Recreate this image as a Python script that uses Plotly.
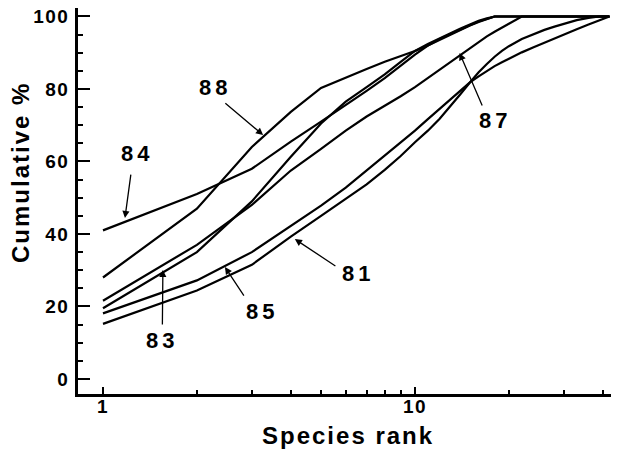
import math
import plotly.graph_objects as go

# Species rank (x, log scale)
ranks = [1, 2, 3, 4, 5, 6, 7, 8, 9, 10, 11, 12, 13, 14, 15, 16, 17, 18, 19, 20,
         22, 24, 26, 28, 30, 33, 36, 39, 42]

# Cumulative % per year
c88 = [28, 47, 64, 73.7, 80.3, 83, 85.5, 87.5, 89, 90.5, 92, 93.6, 95, 96.4, 97.5, 98.5, 99.3, 100, 100, 100,
       100, 100, 100, 100, 100, 100, 100, 100, 100]
c84 = [41, 51, 58, 65.5, 71, 75.5, 79.5, 83, 86.5, 89.5, 92, 93.8, 95.2, 96.5, 97.6, 98.6, 99.4, 100, 100, 100,
       100, 100, 100, 100, 100, 100, 100, 100, 100]
c83 = [19.5, 35, 49, 61.3, 70.5, 76.5, 80.5, 84, 87.5, 90.5, 92.4, 94, 95.4, 96.7, 97.8, 98.8, 99.5, 100, 100, 100,
       100, 100, 100, 100, 100, 100, 100, 100, 100]
c87 = [21.6, 37, 48, 57.5, 63.5, 68.5, 72.4, 75.3, 78, 80.5, 83, 85.3, 87.5, 89.5, 91.3, 93, 94.5, 95.8, 97, 98,
       100, 100, 100, 100, 100, 100, 100, 100, 100]
c85 = [18.1, 27.2, 35, 42.2, 47.8, 52.8, 57.5, 61.5, 65.2, 68.5, 71.7, 74.6, 77.2, 79.6, 81.8, 83.5, 85, 86.3, 87.4, 88.4,
       90.1, 91.5, 92.8, 94, 95, 96.5, 97.8, 99, 100]
c81 = [15.2, 24.4, 31.5, 39.3, 45, 49.7, 53.7, 57.7, 61.5, 65.3, 68.5, 71.8, 75.2, 78.6, 81.8, 84.6, 86.9, 88.9, 90.5, 91.8,
       93.8, 95.2, 96.3, 97.2, 98, 99, 99.6, 100, 100]

series = {"81": c81, "83": c83, "84": c84, "85": c85, "87": c87, "88": c88}

# Label text position, arrow tail, arrow tip (rank, %)
label_names = ["84", "88", "83", "85", "81", "87"]
label_pos = [(1.29, 62.3), (2.29, 80.3), (1.55, 10.5), (3.24, 18.5), (6.56, 29.2), (18.0, 71.4)]
arrow_tail = [(1.23, 56.8), (2.44, 76.4), (1.55, 14.6), (2.85, 22.6), (5.62, 30.9), (16.5, 75.0)]
arrow_tip = [(1.176, 44.4), (3.26, 67.3), (1.556, 30.1), (2.46, 30.9), (4.12, 38.6), (13.9, 89.9)]

y_ticks = [0, 20, 40, 60, 80, 100]
y_minor = [5, 10, 15, 25, 30, 35, 45, 50, 55, 65, 70, 75, 85, 90, 95]
x_ticks = [1, 10]
x_minor = [2, 3, 4, 5, 6, 7, 8, 9, 20, 30, 40]

FONT = "Liberation Sans, Arial, sans-serif"

fig = go.Figure()
for name, vals in series.items():
    fig.add_trace(go.Scatter(x=ranks, y=vals, mode="lines", name=name,
                             line=dict(color="black", width=2.2), showlegend=False,
                             hoverinfo="skip"))

def sp(t, ls):
    return '<span style="letter-spacing:%spx">%s</span>' % (ls, t)

annotations = []
for name, (tx, ty), (ax_, ay_), (hx, hy) in zip(label_names, label_pos, arrow_tail, arrow_tip):
    annotations.append(dict(x=math.log10(tx), y=ty, xref="x", yref="y", text=sp(name, 4),
                            xanchor="center", yanchor="middle",
                            showarrow=False, font=dict(family=FONT, size=22, color="black", weight="bold")))
    annotations.append(dict(x=math.log10(hx), y=hy, xref="x", yref="y", text="",
                            showarrow=True, ax=math.log10(ax_), ay=ay_, axref="x", ayref="y",
                            arrowhead=2, arrowsize=1.1, arrowwidth=1.3, arrowcolor="black", standoff=0))

annotations.append(dict(x=-0.1072, y=0.5725, xref="paper", yref="paper", text=sp("Cumulative %", 2),
                        textangle=-90, showarrow=False, xanchor="center", yanchor="middle",
                        font=dict(family=FONT, size=24, color="black", weight="bold")))
annotations.append(dict(x=0.499, y=-0.1088, xref="paper", yref="paper", text=sp("Species rank", 2),
                        showarrow=False, xanchor="center", yanchor="middle",
                        font=dict(family=FONT, size=24, color="black", weight="bold")))

# The page body adds an 8px offset, so the figure is 8px smaller on each side.
fig.update_layout(
    width=611, height=444,
    margin=dict(l=70, r=0, t=0, b=58, autoexpand=False),
    paper_bgcolor="white", plot_bgcolor="white",
    annotations=annotations,
    xaxis=dict(type="log", range=[-0.0801, 1.654], showgrid=False, zeroline=False, automargin=False,
               showline=True, linecolor="black", linewidth=2.5,
               ticks="inside", ticklen=7, tickwidth=2, tickcolor="black",
               tickmode="array", tickvals=x_ticks, ticktext=[sp(str(v), 1.5) for v in x_ticks],
               tickfont=dict(family=FONT, size=19, color="black", weight="bold"),
               ticklabelstandoff=-7, ticklabeloverflow="allow",
               minor=dict(tickmode="array", tickvals=x_minor, ticks="inside", ticklen=4,
                          tickwidth=1.8, tickcolor="black", showgrid=False)),
    yaxis=dict(range=[-4.14, 102.34], showgrid=False, zeroline=False, automargin=False,
               showline=True, linecolor="black", linewidth=2.5,
               ticks="inside", ticklen=12, tickwidth=2, tickcolor="black",
               tickmode="array", tickvals=y_ticks, ticktext=[sp(str(v), 1.5) for v in y_ticks],
               tickfont=dict(family=FONT, size=19, color="black", weight="bold"),
               ticklabelstandoff=2, ticklabeloverflow="allow",
               minor=dict(tickmode="array", tickvals=y_minor, ticks="inside", ticklen=5,
                          tickwidth=1.8, tickcolor="black", showgrid=False)),
)

fig.write_html("out.html")
